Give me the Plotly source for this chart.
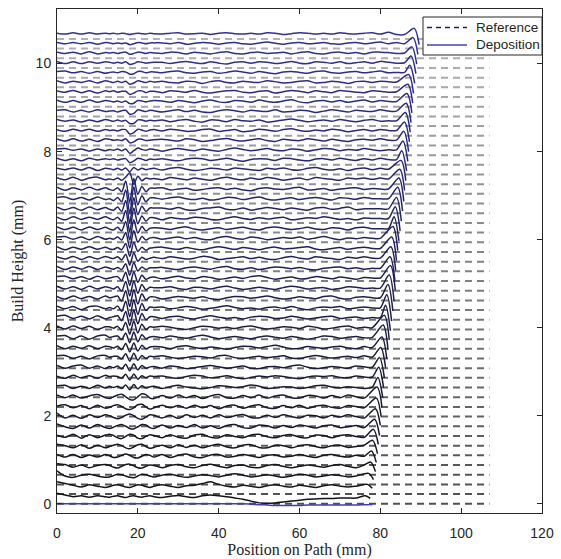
import plotly.graph_objects as go

# ---------------- data ----------------
grid_x = [0, 2, 4, 6, 8, 10, 12, 13, 14, 15, 16, 17, 18, 19, 20, 21, 22, 23, 24,
          26, 28, 30, 32, 34, 36, 38, 40, 42, 44, 46, 48, 50, 52, 54, 56, 58, 60,
          62, 64, 66, 68, 70, 72, 74, 76, 78, 80, 82, 84, 86, 88]

ref_heights = [0.00, 0.22, 0.44, 0.66, 0.88, 1.10, 1.32, 1.54, 1.76, 1.98, 2.20,
               2.42, 2.64, 2.86, 3.08, 3.30, 3.52, 3.74, 3.96, 4.18, 4.40, 4.62,
               4.84, 5.06, 5.28, 5.50, 5.72, 5.94, 6.16, 6.38, 6.60, 6.82, 7.04,
               7.26, 7.48, 7.70, 7.92, 8.14, 8.36, 8.58, 8.80, 9.02, 9.24, 9.46,
               9.68, 9.90, 10.12, 10.34, 10.56]
ref_end = 107

dep_heights = [0.00, 0.16, 0.40, 0.63, 0.85, 1.08, 1.30, 1.53, 1.75, 1.98, 2.20,
               2.43, 2.65, 2.88, 3.10, 3.33, 3.55, 3.78, 4.00, 4.23, 4.45, 4.68,
               4.90, 5.13, 5.35, 5.58, 5.80, 6.03, 6.25, 6.48, 6.70, 6.93, 7.15,
               7.38, 7.60, 7.82, 8.04, 8.26, 8.48, 8.70, 8.92, 9.14, 9.36, 9.58,
               9.80, 10.02, 10.24, 10.46, 10.68]

end_x = [78, 77.5, 78, 78.3, 78.8, 79, 79.3, 79.5, 79.8, 80, 80.2,
         80.4, 80.6, 80.8, 81, 81.3, 81.6,
         81.9, 82.2, 82.5, 82.8, 83.1, 83.4, 83.7,
         83.6, 83.8, 84, 84.3, 84.6, 84.9, 85.2, 85.5, 85.8,
         86, 86.3, 86.5, 86.8, 87, 87.2, 87.4, 87.6, 87.8, 88, 88.2,
         88.5, 88.8, 89, 89.3, 89.6]

# end-of-pass spike (hundredths of mm relative to layer height)
spike_peak = [-2, 2, 4, 6, 10, 12, 14, 16, 17, 18, 20,
              22, 22, 22, 22, 22, 24,
              28, 28, 28, 30, 30, 30, 28,
              26, 26, 26, 27, 27, 27, 26, 26, 25,
              22, 20, 20, 20, 20, 19, 19, 18, 18, 17, 17,
              16, 15, 14, 13, 12]
spike_tail = [-2, -4, -5, -8, -12, -14, -16, -18, -20, -20, -22,
              -24, -24, -24, -24, -24, -26,
              -28, -28, -30, -30, -30, -30, -28,
              -28, -28, -28, -28, -28, -28, -28, -28, -28,
              -26, -26, -26, -26, -26, -26, -26, -26, -26, -26, -26,
              -25, -25, -25, -25, -25]

# deposition deviations along the path (hundredths of mm), sampled at grid_x
dev_00 = [0,0,0,0,0,0,0, 0,0,0,0,0,0,0,0,0,0,0,0, 0,0,0,0,0,0,0,0,0,0,0,-1,-2,-3,-4,-4,-4,-4,-3,-3,-3,-3,-3,-3,-3,-2,-2,0,0,0,0,0]
dev_01 = [8,4,0,2,-1,2,0, -1,1,2,0,-2,1,2,0,-1,1,2,0, -2,1,3,0,-2,2,4,2,0,-3,-6,-10,-14,-15,-14,-12,-10,-8,-6,-5,-4,-4,-3,-3,-3,-4,0,0,0,0,0,0]
dev_02 = [10,6,2,-2,3,0,-3, -1,2,3,1,-2,-3,0,3,2,-1,-3,0, 3,0,-3,1,2,6,10,4,0,-2, 2,0,-3,1,3,0,-2,2,0,-3, 1,3,0,-2,0,2, 0,0,0,0,0,0]
dev_03 = [12,0,-3,2,4,0,-3, -2,1,4,3,0,-3,-4,0,4,3,0,-2, 2,4,0,-3,0,3,1,-2,2,5, 2,-2,0,3,0,-3,0,4,2,-2, 0,3,1,-2,0,2, 0,0,0,0,0,0]
dev_04 = [6,4,-2,3,-3,2,4, 2,-2,-4,0,4,5,1,-3,-4,0,3,2, -3,2,4,-1,-3,2,5,0,-3,2, 3,-2,-3,2,4,0,-3,0,3,1, -2,2,4,0,-3,3, 0,0,0,0,0,0]
dev_05 = [4,-2,4,-3,3,-2,4, 1,-3,-2,2,5,2,-3,-4,0,4,2,-2, 4,-3,2,5,-2,-3,3,4,-2,0, 4,1,-3,2,3,-2,0,4,0,-3, 2,4,0,-2,2,0, 0,0,0,0,0,0]
dev_06 = [5,2,-3,4,-4,3,-3, 0,3,5,2,-3,-5,-1,4,5,0,-4,-2, 3,-3,4,-2,3,-3,2,5,-1,-3, 3,4,-2,-3,3,2,-3,2,4,0, -3,2,3,-2,0,3, 0,0,0,0,0,0]
dev_07 = [3,-2,5,-4,4,-3,3, 5,2,-3,-5,0,5,3,-4,-5,0,4,2, -3,4,-2,-4,3,5,-2,-3,4,0, -3,3,5,-1,-3,2,4,-2,-3,3, 2,-3,2,4,0,-2, 0,0,0,0,0,0]
dev_08 = [6,0,-4,4,-3,5,-2, -4,-1,3,5,1,-4,-5,0,5,4,-2,-4, 4,-3,3,-2,5,-3,2,-4,3,5, -2,-3,4,2,-3,3,-2,4,1,-3, 2,4,-2,0,3,-2, 0,0,0,0,0,0]
dev_09 = [8,-3,3,-4,4,-2,4, 2,-2,-5,-2,3,6,2,-4,-6,-1,4,3, -3,3,-4,4,-2,3,-3,4,-2,2, 5,-2,-3,3,-2,4,0,-3,3,2, -3,3,-1,4,0,-3, 0,0,0,0,0,0]
dev_10 = [2,5,-2,3,-4,4,-3, -1,3,5,1,-4,-6,-2,5,6,0,-5,-2, 4,-2,3,-3,4,-2,3,-4,2,4, -3,2,5,-2,-3,3,-2,4,-3,2, 4,-1,-3,3,1,-2, -3,0,0,0,0,0]
dev_11 = [4,-2,4,-3,2,5,-2, -4,0,4,6,0,-6,-7,0,7,5,-3,-4, 3,-3,4,-2,3,-4,2,5,-2,-3, 3,-2,4,-3,2,4,-2,-3,3,2, -3,3,-2,4,0,-3, 0,0,0,0,0,0]
dev_12 = [3,4,-3,2,-3,4,-2, 2,-1,2,-3,5,-6,6,-4,3,-2,1,2, -3,1,4,0,-2,-4,-1,3,2,-1, 1,5,2,-3,-2,1,0,-3,-1,3, 4,0,-2,1,-1,-3, 0,0,0,0,0,0]
dev_13 = [2,-3,4,-2,3,-3,4, 1,2,1,-3,6,-7,7,-5,3,-2,2,1, 2,-1,-3,1,4,2,-2,0,3,-1, -4,-1,2,0,3,1,-2,-4,0,2, 1,3,-1,-2,2,0, 0,0,0,0,0,0]
dev_14 = [4,-2,3,5,-2,3,-3, 2,-1,3,-4,7,-8,8,-6,4,-2,1,2, -2,3,1,-3,-1,2,4,1,-2,0, 3,-2,-3,1,2,-1,3,5,0,-3, -1,2,0,-2,3,1, 0,0,0,0,0,0]
dev_15 = [3,4,-3,2,-4,3,4, 0,2,2,-4,8,-9,9,-7,4,-3,2,1, 3,0,-3,-1,2,1,-2,3,4,-1, -3,0,2,-1,1,3,-2,-3,1,4, 1,-2,0,2,-1,3, 0,0,0,0,0,0]
dev_16 = [4,-3,3,-2,4,-3,3, 2,-1,3,-5,9,-10,10,-8,5,-3,1,2, 1,-3,2,4,0,-2,1,-1,-4,0, 3,2,-1,2,5,1,-3,-2,2,0, -2,1,3,-1,-3,2, 0,0,0,0,0,0]
dev_17 = [3,4,-3,3,-4,3,5, 0,2,3,-5,10,-12,12,-10,6,-3,1,2, -1,3,0,-2,2,5,1,-3,0,2, -1,-3,1,3,0,-2,2,-1,-4,-1, 3,2,-2,0,2,-1, 0,0,0,0,0,0]
dev_18 = [4,-3,4,-2,3,-4,2, 2,-1,3,-6,12,-15,15,-12,8,-4,2,1, 3,1,-2,-4,0,3,2,-1,1,-2, 2,4,0,-3,-1,2,1,-2,3,1, -3,-1,2,4,-1,1, 0,0,0,0,0,0]
dev_19 = [3,5,-2,3,-3,4,-3, 0,2,4,-7,14,-18,17,-14,9,-5,2,2, -2,2,3,-1,-3,1,4,1,-2,0, -3,1,3,2,-2,-1,3,0,-3,-1, 2,3,-2,0,1,-2, 0,0,0,0,0,0]
dev_20 = [4,-2,3,-4,3,4,-2, 1,-2,4,-8,15,-20,18,-15,10,-6,2,1, 2,-2,0,3,1,-3,-1,2,5,1, -2,0,-3,1,2,-1,3,-1,-4,0, 2,1,3,-2,0,2, 0,0,0,0,0,0]
dev_21 = [3,-3,4,-2,3,-3,4, 0,2,4,-8,16,-20,18,-14,9,-5,2,2, -3,0,3,1,-1,2,-2,-4,0,3, 2,-1,1,4,0,-3,-1,2,0,-2, 3,4,-1,-3,1,2, 0,0,0,0,0,0]
dev_22 = [4,-2,3,-3,4,-2,3, 1,-2,3,-7,15,-18,16,-12,8,-4,2,1, 1,3,-1,-3,2,1,-2,2,4,0, -3,-1,2,-1,-3,1,4,2,-2,0, 1,-3,-1,3,2,-1, 0,0,0,0,0,0]
dev_23 = [3,4,-2,3,-3,4,-2, 0,2,3,-6,13,-17,14,-10,6,-3,1,2, -2,1,4,0,-2,3,1,-3,-1,2, -1,3,5,1,-3,0,2,-2,-1,3, 1,-2,2,0,-3,1, 0,0,0,0,0,0]
dev_24 = [4,-3,3,-2,4,-3,3, 0,-2,2,-3,10,-16,13,-6,3,-3,1,1, 2,-1,-3,1,3,0,-2,2,4,-1, -2,1,-3,0,3,2,-1,2,-2,-4, 0,2,3,-1,1,-2, 0,0,0,0,0,0]
dev_25 = [3,-2,4,-3,3,-2,4, 1,-1,3,-4,9,-16,12,-7,2,-3,0,2, -1,3,1,-2,0,4,2,-3,-1,1, 3,-1,2,-2,-3,1,4,0,-2,3, 1,-1,-3,2,0,3, 0,0,0,0,0,0]
dev_26 = [4,-3,3,-2,4,-2,3, -1,-2,2,-3,11,-18,14,-7,3,-4,1,2, 3,0,-2,2,-1,-3,1,4,1,-2, 2,0,-3,1,3,-1,0,2,4,-1, -3,0,2,-2,1,3, 0,0,0,0,0,0]
dev_27 = [3,4,-2,3,-3,4,-2, 0,-2,3,-4,13,-22,17,-9,4,-4,1,2, -2,1,3,-1,2,-2,-3,2,4,0, -2,3,1,-3,-1,2,0,3,-2,1, 4,0,-3,1,-1,2, 0,0,0,0,0,0]
dev_28 = [4,-2,3,-3,4,-2,3, -1,-3,3,-5,16,-26,20,-10,5,-5,1,2, 1,-2,2,4,-1,-3,0,2,-2,1, 3,-1,-3,2,4,1,-2,0,3,-1, -2,2,1,-3,2,3, 0,0,0,0,0,0]
dev_29 = [3,-3,4,-2,3,-2,4, 0,-3,3,-6,18,-30,24,-12,6,-6,2,2, -3,2,0,-1,3,2,-2,-3,1,4, 0,-2,2,-1,1,3,-3,-1,2,0, 4,1,-2,0,-3,1, 0,0,0,0,0,0]
dev_30 = [4,-2,3,-3,4,-2,3, -1,-3,4,-6,19,-32,26,-13,6,-6,2,2, 2,-1,3,-2,-3,1,2,4,-1,-2, 2,-3,0,3,1,-2,2,-1,-3,2, 3,-1,1,4,-2,0, 0,0,0,0,0,0]
dev_31 = [3,4,-2,3,-3,4,-2, 0,-4,3,-7,20,-34,27,-14,7,-7,2,2, -1,2,4,0,-2,1,-3,-1,3,2, -2,1,4,-1,-3,0,2,-2,1,3, 0,-3,2,1,-1,3, 0,0,0,0,0,0]
dev_32 = [4,-3,3,-2,4,-2,3, -1,-3,3,-6,18,-30,24,-12,6,-6,2,2, 3,-2,0,2,-3,-1,2,3,-1,2, -2,-4,1,3,0,-1,2,4,-2,-1, 1,-3,0,2,3,-1, 1,0,0,0,0,0]
dev_33 = [3,-2,4,-3,2,4,-2, 0,-2,2,-3,4,14,-12,6,-4,2,0,1, -2,3,1,-2,2,-1,-3,1,4,0, -2,2,-1,3,1,-3,0,2,-2,3, 1,-1,-3,2,0,2, -1,2,0,0,0,0]
dev_34 = [2,-1,3,-2,4,-3,2, 1,-1,2,-2,3,-6,4,-2,2,-1,1,2, -2,2,4,0,-3,-1,2,1,-2,3, 1,-1,-3,2,0,3,-1,-2,2,4, 0,-2,1,-3,1,3, -1,2,0,0,0,0]
dev_35 = [3,-2,2,-3,3,-1,2, 0,2,-1,1,2,-7,-3,3,1,-2,1,0, 2,-1,-3,1,3,2,-2,0,3,-1, -4,0,2,1,-2,3,2,-1,-3,1, 2,-1,3,0,-2,2, -1,3,0,0,0,0]
dev_36 = [2,3,-1,2,-3,2,-2, 1,-1,2,-2,2,-8,-2,4,1,-1,2,1, -3,1,3,0,-2,2,-1,-3,1,4, 1,-2,0,3,-1,-2,2,1,-3,0, 3,2,-2,1,-1,3, 0,-2,0,0,0,0]
dev_37 = [3,-2,3,-2,2,-3,3, 2,0,1,-1,3,-6,-4,2,2,-1,0,1, 2,0,-2,3,1,-3,-1,2,4,0, -2,1,3,-1,-3,2,0,-1,3,1, -2,2,-1,-3,1,2, 0,3,0,0,0,0]
dev_38 = [2,-2,3,-1,3,-2,2, 0,1,-1,2,2,-8,-5,3,1,-2,1,2, -1,3,1,-2,-1,2,3,-2,0,2, -3,-1,3,1,-2,2,4,0,-2,1, -1,3,1,-3,0,2, -1,2,0,0,0,0]
dev_39 = [3,-1,2,-3,2,-2,3, 1,-1,2,-1,1,-6,-6,2,2,-1,1,0, 2,-2,1,3,-1,-3,2,1,-2,3, 0,-1,2,-3,-1,2,4,1,-2,0, 2,-1,3,0,-2,1, 3,-1,0,0,0,0]
dev_40 = [2,3,-2,2,-2,3,-1, 0,1,-2,1,2,-7,-5,3,1,-1,2,1, -2,1,3,-1,2,-2,-3,1,3,1, -2,2,0,-1,3,-2,-1,2,1,-3, 0,3,1,-2,2,0, -1,3,0,0,0,0]
dev_41 = [3,-2,2,-2,3,-2,2, 1,-1,1,-2,1,-5,-4,2,1,-1,1,2, 1,-2,2,0,-3,1,3,-1,-2,2, 1,-2,3,0,-2,1,4,-1,-3,1, 2,-1,2,-2,1,3, -1,2,0,0,0,0]
dev_42 = [2,-1,3,-2,2,-3,2, 0,2,-1,1,1,-6,-3,2,2,-2,1,1, -2,2,1,-1,3,-1,-3,0,2,3, -1,-2,1,2,-3,0,3,1,-2,2, 0,-2,3,1,-1,-2, 2,1,-1,0,0,0]
dev_43 = [3,-2,2,-1,3,-2,3, 1,-1,2,-1,2,-5,-2,3,1,-1,2,0, 2,-1,-2,2,1,-3,1,3,-1,-2, 2,0,-1,3,1,-2,-1,2,3,-2, -1,2,0,-3,1,2, -1,2,1,0,0,0]
dev_44 = [2,3,-1,2,-2,2,-2, 0,1,-1,2,1,-4,-3,2,2,-1,1,1, -1,2,3,-1,-2,1,2,-2,0,3, 1,-2,2,-1,-3,1,2,0,-2,2, 3,-1,-2,1,2,-1, 1,3,-1,0,0,0]
dev_45 = [3,-2,2,-2,2,-1,2, 1,-1,1,-1,2,-4,-2,2,1,-1,0,1, 1,-2,1,3,0,-2,2,-1,-3,1, 2,-1,2,1,-2,0,3,-1,-2,2, 1,-1,2,-2,0,2, -1,3,1,-1,0,0]
dev_46 = [2,-1,2,-2,3,-2,1, 0,1,-1,1,2,-3,-1,2,1,-1,1,0, -1,2,1,-2,2,0,-2,1,3,-1, -2,1,2,-1,0,2,-2,1,3,-1, -2,1,2,-1,1,-2, 2,2,1,-1,0,0]
dev_47 = [2,-1,2,-1,2,-2,2, 1,-1,1,-1,1,-3,-1,2,1,-1,1,1, 1,-1,2,-2,0,2,1,-2,1,2, -1,-2,1,3,0,-2,1,2,-1,0, 2,-1,-2,1,2,-1, 1,3,-1,2,-1,0]
dev_48 = [1,-1,2,-1,2,-1,1, 0,1,-1,1,0,-2,0,1,0,-1,1,0, -1,1,2,-1,0,1,-2,1,2,0, -1,1,-1,2,1,-2,0,2,1,-1, 1,-1,2,0,-1,1, 2,-1,3,-2,-2,0]

deviations = [dev_00, dev_01, dev_02, dev_03, dev_04, dev_05, dev_06, dev_07, dev_08,
              dev_09, dev_10, dev_11, dev_12, dev_13, dev_14, dev_15, dev_16, dev_17,
              dev_18, dev_19, dev_20, dev_21, dev_22, dev_23, dev_24, dev_25, dev_26,
              dev_27, dev_28, dev_29, dev_30, dev_31, dev_32, dev_33, dev_34, dev_35,
              dev_36, dev_37, dev_38, dev_39, dev_40, dev_41, dev_42, dev_43, dev_44,
              dev_45, dev_46, dev_47, dev_48]

legend_labels = ["Reference", "Deposition"]

# ---------------- figure ----------------
AX = "#262626"
W, H = 561, 559
ML, MR, MT, MB = 57, 19, 9, 46
PW, PH = W - ML - MR, H - MT - MB
n = len(ref_heights)
fig = go.Figure()


def hexcol(r, g, b):
    return "#%02x%02x%02x" % (int(round(r)), int(round(g)), int(round(b)))


def px_x(p):
    return (p - ML) / PW


def px_y(p):
    return (H - MB - p) / PH


# reference paths (dashed, grey shading bottom->top)
for i, h in enumerate(ref_heights):
    t = i / (n - 1)
    gv = 80 + t * (178 - 80)
    fig.add_trace(go.Scatter(
        x=[0, ref_end], y=[h, h], mode="lines",
        line=dict(color=hexcol(gv, gv, gv), width=2, dash="7px,5px"),
        showlegend=False, hoverinfo="skip"))

# deposition profiles
for i, (base, dev) in enumerate(zip(dep_heights, deviations)):
    xe = end_x[i]
    xs, ys = [], []
    for gx, d in zip(grid_x, dev):
        if gx <= xe - 2.5:
            xs.append(gx)
            ys.append(base + d / 100.0)
    xs += [xe - 1.2, xe]
    ys += [base + spike_peak[i] / 100.0, base + spike_tail[i] / 100.0]
    if i == 0:
        col = "#3a3ad2"
    else:
        t = (i - 1) / (n - 2)
        col = hexcol(20 + t * (46 - 20), 20 + t * (46 - 20), 20 + t * (165 - 20))
    fig.add_trace(go.Scatter(
        x=xs, y=ys, mode="lines", line=dict(color=col, width=1.5, shape="spline", smoothing=0.8),
        showlegend=False, hoverinfo="skip"))

# legend box (drawn manually, MATLAB style)
shapes = [
    dict(type="rect", xref="paper", yref="paper", layer="above",
         x0=px_x(423), x1=px_x(542), y0=px_y(55), y1=px_y(17),
         fillcolor="white", line=dict(color=AX, width=1)),
    dict(type="line", xref="paper", yref="paper", layer="above",
         x0=px_x(427), x1=px_x(467), y0=px_y(27.5), y1=px_y(27.5),
         line=dict(color="#1f1f5a", width=1.5, dash="5px,4px")),
    dict(type="line", xref="paper", yref="paper", layer="above",
         x0=px_x(427), x1=px_x(467), y0=px_y(45), y1=px_y(45),
         line=dict(color="#4040c8", width=1.5)),
]
annotations = [
    dict(text=legend_labels[0], xref="paper", yref="paper", x=px_x(474), y=px_y(27.5),
         xanchor="left", yanchor="middle", showarrow=False,
         font=dict(family="Liberation Sans, Arial, sans-serif", size=13.5, color=AX)),
    dict(text=legend_labels[1], xref="paper", yref="paper", x=px_x(474), y=px_y(45),
         xanchor="left", yanchor="middle", showarrow=False,
         font=dict(family="Liberation Sans, Arial, sans-serif", size=13.5, color=AX)),
]

tickfont = dict(family="Liberation Sans, Arial, sans-serif", size=14, color=AX)
titlefont = dict(family="Liberation Serif, Times New Roman, serif", size=16, color=AX)

fig.update_layout(
    width=W, height=H,
    margin=dict(l=ML, r=MR, t=MT, b=MB, autoexpand=False),
    plot_bgcolor="white", paper_bgcolor="white",
    showlegend=False,
    shapes=shapes, annotations=annotations,
)
fig.update_xaxes(range=[0, 120], tickvals=[0, 20, 40, 60, 80, 100, 120],
                 ticks="inside", ticklen=5, tickcolor=AX, showline=True, linecolor=AX,
                 linewidth=1, mirror="ticks", showgrid=False, zeroline=False,
                 automargin=False,
                 tickfont=tickfont, ticklabelstandoff=7,
                 title=dict(text="Position on Path (mm)", font=titlefont, standoff=4))
fig.update_yaxes(range=[-0.21, 11.24], tickvals=[0, 2, 4, 6, 8, 10],
                 ticks="inside", ticklen=5, tickcolor=AX, showline=True, linecolor=AX,
                 linewidth=1, mirror="ticks", showgrid=False, zeroline=False,
                 automargin=False,
                 tickfont=tickfont, ticklabelstandoff=2,
                 title=dict(text="Build Height (mm)", font=titlefont, standoff=8))

fig.write_html("out.html")
